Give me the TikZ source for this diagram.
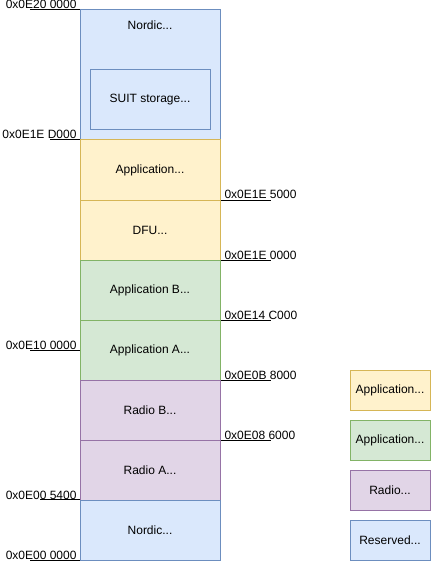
\documentclass[tikz,border=0pt]{standalone}
\usepackage{fontspec}
\setmainfont{Liberation Sans}
\definecolor{resFill}{HTML}{DAE8FC}
\definecolor{resLine}{HTML}{6C8EBF}
\definecolor{appFill}{HTML}{FFF2CC}
\definecolor{appLine}{HTML}{D6B656}
\definecolor{imgFill}{HTML}{D5E8D4}
\definecolor{imgLine}{HTML}{82B366}
\definecolor{radFill}{HTML}{E1D5E7}
\definecolor{radLine}{HTML}{9673A6}

\begin{document}
\begin{tikzpicture}[
          x=1pt,y=-1pt,
          font=\fontsize{12}{14}\selectfont,
          line width=1pt,
          region/.style={rectangle,draw,inner sep=0pt,minimum width=140pt,minimum height=60pt},
          legend/.style={rectangle,draw,inner sep=0pt,minimum width=80pt,minimum height=40pt},
          reserved/.style={fill=resFill,draw=resLine},
          appcore/.style={fill=appFill,draw=appLine},
          appimg/.style={fill=imgFill,draw=imgLine},
          radio/.style={fill=radFill,draw=radLine},
          addrw/.style={anchor=base east,inner sep=0pt},
          addre/.style={anchor=base west,inner sep=0pt},
          tick/.style={draw=black}
        ]
        \useasboundingbox (0,0) rectangle (431,561);
        \node[region,reserved,minimum height=130pt] (nordicTop) at (150,75) {};
        \node (nordicTxt) at (150,25) {Nordic...};
        \node[region,reserved,minimum width=120pt] (suit) at (150,100) {SUIT storage...};
        \node[region,appcore] (appCfg) at (150,170) {Application...};
        \node[region,appcore] (dfu) at (150,230) {DFU...};
        \node[region,appimg] (appB) at (150,290) {Application B...};
        \node[region,appimg] (appA) at (150,350) {Application A...};
        \node[region,radio] (radB) at (150,410) {Radio B...};
        \node[region,radio] (radA) at (150,470) {Radio A...};
        \node[region,reserved] (nordicBot) at (150,530) {Nordic...};

        \node[addrw] (aTop) at (77,9) {0x0E20 0000};
        \draw[tick] (nordicTop.north west) -- ++(-50,0);
        \node[addrw] (aD000) at (77,139) {0x0E1E D000};
        \draw[tick] (appCfg.north west) -- ++(-30,0);
        \node[addrw] (aMid) at (77,349) {0x0E10 0000};
        \draw[tick] (appA.west) -- ++(-50,0);
        \node[addrw] (a5400) at (77,499) {0x0E00 5400};
        \draw[tick] (nordicBot.north west) -- ++(-40,0);
        \node[addrw] (aBot) at (77,559) {0x0E00 0000};
        \draw[tick] (nordicBot.south west) -- ++(-50,0);

        \node[addre] (a5000) at (224,199) {0x0E1E 5000};
        \draw[tick] (appCfg.south east) -- ++(50,0);
        \node[addre] (a0000) at (224,259) {0x0E1E 0000};
        \draw[tick] (dfu.south east) -- ++(50,0);
        \node[addre] (aC000) at (224,319) {0x0E14 C000};
        \draw[tick] (appB.south east) -- ++(50,0);
        \node[addre] (a8000) at (224,379) {0x0E0B 8000};
        \draw[tick] (appA.south east) -- ++(50,0);
        \node[addre] (a6000) at (224,439) {0x0E08 6000};
        \draw[tick] (radB.south east) -- ++(50,0);

        \node[legend,appcore] (keyApp) at (390,390) {Application...};
        \node[legend,appimg] (keyImg) at (390,440) {Application...};
        \node[legend,radio] (keyRad) at (390,490) {Radio...};
        \node[legend,reserved] (keyRes) at (390,540) {Reserved...};
        \end{tikzpicture}
\end{document}
